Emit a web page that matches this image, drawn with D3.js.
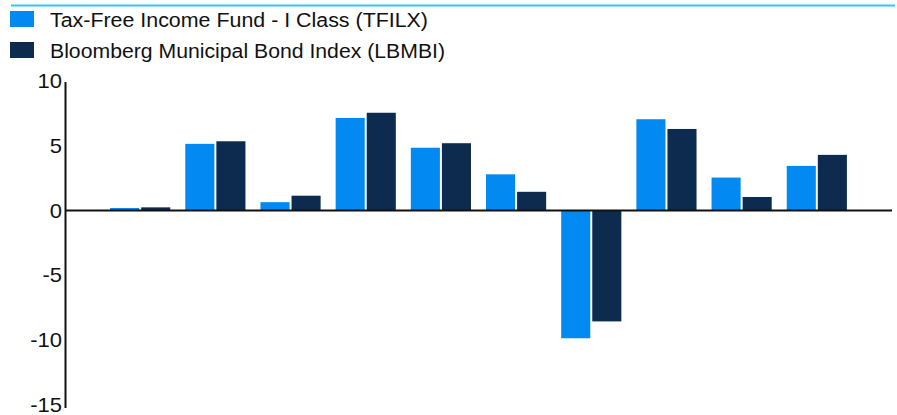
<!doctype html>
<html lang="en">
<head>
    <meta charset="utf-8"/>
    <title>TFILX vs LBMBI</title>
    <script src="https://d3js.org/d3.v7.min.js"></script>
    <style>
        body { margin: 0; padding: 0; background: #fff; }
        svg { display: block; font-family: "Liberation Sans", Arial, sans-serif; }
    </style>
</head>
<body>
<script>
    // periods (no labels shown in the chart)
    const periods = ['P1', 'P2', 'P3', 'P4', 'P5', 'P6', 'P7', 'P8', 'P9', 'P10'];
    // returns, in %
    const fundValues = [0.2, 5.15, 0.65, 7.15, 4.85, 2.8, -9.85, 7.05, 2.55, 3.45];
    const indexValues = [0.25, 5.35, 1.15, 7.55, 5.2, 1.45, -8.55, 6.3, 1.05, 4.3];
    const seriesNames = ['Tax-Free Income Fund - I Class (TFILX)', 'Bloomberg Municipal Bond Index (LBMBI)'];
    const seriesColors = ['#0289f2', '#0d2b4f'];
    const yTicks = [10, 5, 0, -5, -10, -15];

    const width = 897, height = 415;
    const svg = d3.select('body').append('svg')
        .attr('width', width)
        .attr('height', height);

    // thin cyan rule at the top
    svg.append('line')
        .attr('x1', 11).attr('x2', 895)
        .attr('y1', 5.5).attr('y2', 5.5)
        .attr('stroke', '#35c5ee')
        .attr('stroke-width', 2);

    // legend (text is a bit wider than plain Arial in the original)
    const legend = svg.append('g');
    const legendWidths = [378, 395];
    seriesNames.forEach(function (name, i) {
        legend.append('rect')
            .attr('x', 10).attr('y', 11 + i * 31)
            .attr('width', 24).attr('height', 16)
            .attr('fill', seriesColors[i]);
        legend.append('text')
            .attr('x', 50).attr('y', 27 + i * 31)
            .attr('font-size', 20)
            .attr('fill', '#111')
            .attr('textLength', legendWidths[i])
            .attr('lengthAdjust', 'spacingAndGlyphs')
            .text(name);
    });

    // scales
    const x0 = d3.scaleBand()
        .domain(periods)
        .range([65, 892])
        .paddingInner(0.2)
        .paddingOuter(0.6);

    const x1 = d3.scaleBand()
        .domain([0, 1])
        .range([0, x0.bandwidth()]);

    const y = d3.scaleLinear()
        .domain([-15, 10])
        .range([405, 81]);

    // bars
    const rows = periods.map(function (p, i) {
        return {period: p, values: [fundValues[i], indexValues[i]]};
    });

    const groups = svg.append('g').selectAll('g')
        .data(rows)
        .join('g')
        .attr('transform', d => `translate(${x0(d.period)},0)`);

    groups.selectAll('rect')
        .data(d => d.values.map((v, k) => ({k: k, v: v})))
        .join('rect')
        .attr('x', d => x1(d.k) + (d.k === 0 ? 0 : 1))
        .attr('width', d => x1.bandwidth() - 1)
        .attr('y', d => y(Math.max(0, d.v)))
        .attr('height', d => Math.abs(y(d.v) - y(0)))
        .attr('fill', d => seriesColors[d.k]);

    // y axis, hyphen minus like the original
    const yAxis = svg.append('g')
        .attr('transform', 'translate(65,0)')
        .call(d3.axisLeft(y).tickValues(yTicks).tickSize(0).tickPadding(0).tickFormat(d => String(d)));
    yAxis.select('.domain').remove();
    yAxis.selectAll('text')
        .attr('x', 0)
        .attr('transform', 'translate(-3,0) scale(1.1,1)')
        .attr('font-size', 20)
        .attr('font-family', '"Liberation Sans", Arial, sans-serif')
        .attr('fill', '#111');

    svg.append('line')
        .attr('x1', 65.5).attr('x2', 65.5)
        .attr('y1', 82).attr('y2', 408)
        .attr('stroke', '#111')
        .attr('stroke-width', 2);

    // zero line
    svg.append('line')
        .attr('x1', 65).attr('x2', 892)
        .attr('y1', y(0)).attr('y2', y(0))
        .attr('stroke', '#111')
        .attr('stroke-width', 2);
</script>
</body>
</html>
